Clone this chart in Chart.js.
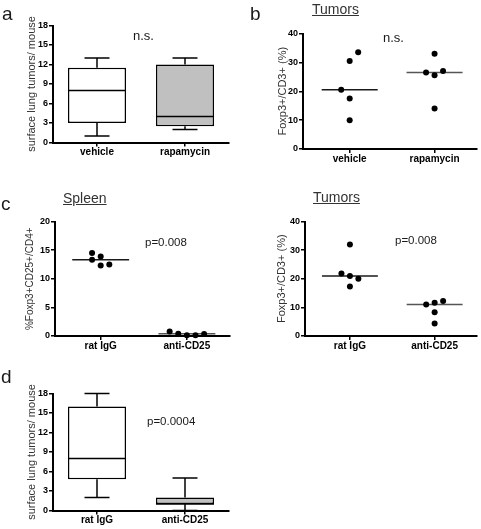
<!DOCTYPE html>
<html><head><meta charset="utf-8">
<script src="https://cdn.jsdelivr.net/npm/chart.js@4.4.1/dist/chart.umd.min.js"></script>
<style>
html,body{margin:0;padding:0;background:#fff;width:481px;height:529px;overflow:hidden;position:relative;font-family:"Liberation Sans",Arial,sans-serif;}
canvas{position:absolute;}
.t{position:absolute;white-space:nowrap;line-height:1;color:#1a1a1a;}
.u{text-decoration:underline;color:#333;}
</style></head><body>
<canvas id="ca" width="240" height="165" style="left:0;top:0;width:240px;height:165px"></canvas>
<canvas id="cb" width="241" height="175" style="left:240px;top:0;width:241px;height:175px"></canvas>
<canvas id="cc1" width="240" height="185" style="left:0;top:175px;width:240px;height:185px"></canvas>
<canvas id="cc2" width="241" height="185" style="left:240px;top:175px;width:241px;height:185px"></canvas>
<canvas id="cd" width="240" height="169" style="left:0;top:360px;width:240px;height:169px"></canvas>

<div class="t" style="left:2px;top:4px;font-size:19px">a</div>
<div class="t" style="left:250px;top:4px;font-size:19px">b</div>
<div class="t" style="left:1px;top:194px;font-size:19px">c</div>
<div class="t" style="left:1px;top:367px;font-size:19px">d</div>
<div class="t u" style="left:312px;top:1.5px;font-size:14px">Tumors</div>
<div class="t u" style="left:63px;top:190.5px;font-size:14px">Spleen</div>
<div class="t u" style="left:313px;top:190px;font-size:14px">Tumors</div>
<div class="t" style="left:133px;top:29px;font-size:13px">n.s.</div>
<div class="t" style="left:383px;top:30.5px;font-size:13px">n.s.</div>
<div class="t" style="left:145px;top:236.5px;font-size:11.5px">p=0.008</div>
<div class="t" style="left:395px;top:234.5px;font-size:11.5px">p=0.008</div>
<div class="t" style="left:147px;top:415.5px;font-size:11.5px">p=0.0004</div>

<script>
// ---------- Panel a : box plot ----------
const aCats = ['vehicle', 'rapamycin'];
const aMin = [1, 2];
const aQ1 = [3, 2.5];
const aMed = [8, 4];
const aQ3 = [11.5, 12];
const aMax = [13, 13];
const aTicks = [0, 3, 6, 9, 12, 15, 18];

// ---------- Panel b : Tumors (dot plot) ----------
const bCats = ['vehicle', 'rapamycin'];
const bVehicle = [33.5, 30.5, 20.5, 17.5, 10];
const bVehicleJit = [0.1, 0, -0.1, 0, 0];
const bRapamycin = [33, 27, 26.5, 25.5, 14];
const bRapamycinJit = [0, 0.1, -0.1, 0, 0];
const bMedian = [20.5, 26.5];
const bTicks = [0, 10, 20, 30, 40];

// ---------- Panel c left : Spleen ----------
const cCats = ['rat IgG', 'anti-CD25'];
const cSpleenIgG = [14.5, 13.9, 13.3, 12.5, 12.3];
const cSpleenIgGJit = [-0.1, 0, -0.1, 0.1, 0];
const cSpleenCD25 = [0.8, 0.4, 0.15, 0.15, 0.35];
const cSpleenCD25Jit = [-0.2, -0.1, 0, 0.1, 0.2];
const cSpleenMedian = [13.3, 0.4];
const cSpleenTicks = [0, 5, 10, 15, 20];

// ---------- Panel c right : Tumors ----------
const cTumorIgG = [32, 21.8, 21, 20, 17.3];
const cTumorIgGJit = [0, -0.1, 0, 0.1, 0];
const cTumorCD25 = [11, 11.6, 12.2, 8.3, 4.4];
const cTumorCD25Jit = [-0.1, 0, 0.1, 0, 0];
const cTumorMedian = [21, 11];
const cTumorTicks = [0, 10, 20, 30, 40];

// ---------- Panel d : box plot ----------
const dCats = ['rat IgG', 'anti-CD25'];
const dMin = [2, 0];
const dQ1 = [4.8, 1];
const dMed = [8, 1];
const dQ3 = [16, 2];
const dMax = [18, 5];
const dTicks = [0, 3, 6, 9, 12, 15, 18];

// ---------- styling ----------
const FONT = '"Liberation Sans", Arial, Helvetica, sans-serif';
Chart.defaults.font.family = FONT;
const BOX_FILLS = ['#ffffff', '#c0c0c0'];
const MED_COLORS = ['#1a1a1a', '#555555'];
const MED_HALF = 0.33;
const CAP_FRAC = 0.215;

const boxPlugin = {
  id: 'boxWhisk',
  afterDatasetsDraw(chart, args, o) {
    const ctx = chart.ctx, y = chart.scales.y;
    const meta = chart.getDatasetMeta(0);
    ctx.save();
    ctx.strokeStyle = '#000';
    ctx.lineWidth = 1.5;
    ctx.lineCap = 'butt';
    meta.data.forEach((bar, i) => {
      const p = bar.getProps(['x', 'width'], true);
      const x = p.x, w = p.width, cap = w * CAP_FRAC;
      const seg = (x1, y1, x2, y2) => { ctx.beginPath(); ctx.moveTo(x1, y1); ctx.lineTo(x2, y2); ctx.stroke(); };
      const ym = y.getPixelForValue(o.med[i]);
      seg(x - w / 2, ym, x + w / 2, ym);
      const yq3 = y.getPixelForValue(o.q3[i]), ymax = y.getPixelForValue(o.max[i]);
      const yq1 = y.getPixelForValue(o.q1[i]), ymin = y.getPixelForValue(o.min[i]);
      seg(x, yq3, x, ymax); seg(x - cap, ymax, x + cap, ymax);
      seg(x, yq1, x, ymin); seg(x - cap, ymin, x + cap, ymin);
    });
    ctx.restore();
  }
};

function yScale(ticks, title, titleSize, geo) {
  return {
    type: 'linear', position: 'left',
    min: ticks[0], max: ticks[ticks.length - 1],
    afterBuildTicks: s => { s.ticks = ticks.map(v => ({ value: v })); },
    afterFit: s => { s.width = geo.yw; },
    grid: { display: true, drawOnChartArea: false, drawTicks: true, tickLength: 4, color: '#000', lineWidth: 1.5 },
    border: { display: true, color: '#000', width: 2 },
    ticks: { color: '#000', font: { size: 9, weight: 'bold' }, padding: 1 },
    title: { display: true, text: title, color: '#333', font: { size: titleSize, weight: 'normal' }, padding: { top: geo.tp, bottom: 0 } }
  };
}
function xGrid() {
  return { display: true, drawOnChartArea: false, drawTicks: true, tickLength: 4, color: '#000', lineWidth: 1.5, offset: false };
}
const xTickStyle = { color: '#000', font: { size: 10, weight: 'bold' }, padding: 0, maxRotation: 0, autoSkip: false };

function boxChart(id, cats, mn, q1, med, q3, mx, yTicks, yTitle, geo) {
  return new Chart(document.getElementById(id), {
    type: 'bar',
    data: { labels: cats, datasets: [{
      data: cats.map((c, i) => [q1[i], q3[i]]),
      backgroundColor: BOX_FILLS, borderColor: '#000', borderWidth: 1.5, borderSkipped: false,
      categoryPercentage: 1, barPercentage: 0.66
    }] },
    options: {
      responsive: false, animation: false, events: [],
      layout: { padding: { top: geo.top, right: geo.right, left: 0, bottom: 0 } },
      plugins: { legend: { display: false }, tooltip: { enabled: false },
        boxWhisk: { min: mn, q1: q1, med: med, q3: q3, max: mx } },
      scales: {
        x: { type: 'category', offset: true, grid: xGrid(), border: { display: true, color: '#000', width: 2 },
             ticks: xTickStyle, afterFit: s => { s.height = geo.xh; } },
        y: yScale(yTicks, yTitle, 11, geo)
      }
    },
    plugins: [boxPlugin]
  });
}

function dotChart(id, cats, groups, jits, medians, yTicks, yTitle, titleSize, xmin, geo) {
  const pts = [];
  groups.forEach((g, gi) => g.forEach((v, k) => pts.push({ x: gi + 1 + jits[gi][k], y: v })));
  const datasets = [{ data: pts, pointRadius: 3, pointBackgroundColor: '#000', pointBorderWidth: 0, showLine: false, clip: false }];
  medians.forEach((m, gi) => datasets.push({
    data: [{ x: gi + 1 - MED_HALF, y: m }, { x: gi + 1 + MED_HALF, y: m }],
    showLine: true, pointRadius: 0, borderColor: MED_COLORS[gi], borderWidth: 1.5, clip: false
  }));
  return new Chart(document.getElementById(id), {
    type: 'scatter',
    data: { datasets },
    options: {
      responsive: false, animation: false, events: [],
      layout: { padding: { top: geo.top, right: geo.right, left: 0, bottom: 0 } },
      plugins: { legend: { display: false }, tooltip: { enabled: false } },
      scales: {
        x: { type: 'linear', min: xmin, max: 2.5,
             afterBuildTicks: s => { s.ticks = cats.map((c, i) => ({ value: i + 1 })); },
             grid: xGrid(), border: { display: true, color: '#000', width: 2 },
             ticks: Object.assign({}, xTickStyle, { callback: v => cats[Math.round(v) - 1] }),
             afterFit: s => { s.height = geo.xh; } },
        y: yScale(yTicks, yTitle, titleSize, geo)
      }
    }
  });
}

const LUNG = 'surface lung tumors/ mouse';
const FOXCD3 = 'Foxp3+/CD3+ (%)';

boxChart('ca', aCats, aMin, aQ1, aMed, aQ3, aMax, aTicks, LUNG,
  { yw: 53, top: 25.5, right: 11, xh: 22.5, tp: 25.4 });
dotChart('cb', bCats, [bVehicle, bRapamycin], [bVehicleJit, bRapamycinJit], bMedian, bTicks, FOXCD3, 11, 0.45,
  { yw: 63, top: 33.5, right: 2, xh: 26, tp: 36.4 });
dotChart('cc1', cCats, [cSpleenIgG, cSpleenCD25], [cSpleenIgGJit, cSpleenCD25Jit], cSpleenMedian, cSpleenTicks, '%Foxp3+CD25+/CD4+', 10, 0.47,
  { yw: 55, top: 46.5, right: 10, xh: 24, tp: 24 });
dotChart('cc2', cCats, [cTumorIgG, cTumorCD25], [cTumorIgGJit, cTumorCD25Jit], cTumorMedian, cTumorTicks, FOXCD3, 11, 0.47,
  { yw: 65, top: 46.5, right: 1, xh: 24, tp: 35.1 });
boxChart('cd', dCats, dMin, dQ1, dMed, dQ3, dMax, dTicks, LUNG,
  { yw: 53, top: 33.5, right: 11, xh: 18.5, tp: 25.1 });
</script>
</body></html>
